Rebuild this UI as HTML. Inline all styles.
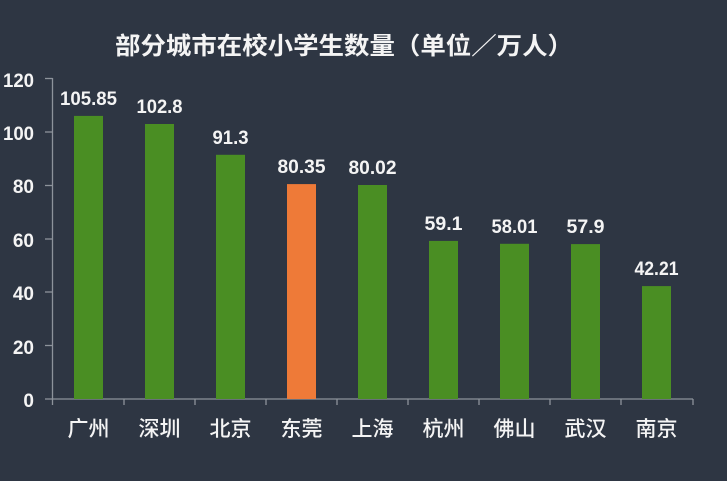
<!DOCTYPE html>
<html><head><meta charset="utf-8"><style>
html,body{margin:0;padding:0;background:#2e3643;}
svg{display:block;}
</style></head><body>
<svg width="727" height="481" xmlns="http://www.w3.org/2000/svg">
<rect width="727" height="481" fill="#2e3643"/>
<text x="344" y="54" text-anchor="middle" fill="#f4f4f4" font-family="'Liberation Sans','Noto Sans CJK SC',sans-serif" font-weight="bold" font-size="24" textLength="458" lengthAdjust="spacingAndGlyphs">部分城市在校小学生数量（单位／万人）</text>
<g stroke="#8d939b" stroke-width="1.3" fill="none">
<line x1="52.5" y1="78" x2="52.5" y2="399"/>
<line x1="52.5" y1="399" x2="693" y2="399"/>
<line x1="45" y1="78.5" x2="52.5" y2="78.5"/>
<line x1="45" y1="132" x2="52.5" y2="132"/>
<line x1="45" y1="185.5" x2="52.5" y2="185.5"/>
<line x1="45" y1="239" x2="52.5" y2="239"/>
<line x1="45" y1="292" x2="52.5" y2="292"/>
<line x1="45" y1="345.5" x2="52.5" y2="345.5"/>
<line x1="45" y1="399" x2="52.5" y2="399"/>
<line x1="52.5" y1="399" x2="52.5" y2="405"/>
<line x1="124" y1="399" x2="124" y2="405"/>
<line x1="195" y1="399" x2="195" y2="405"/>
<line x1="266" y1="399" x2="266" y2="405"/>
<line x1="337" y1="399" x2="337" y2="405"/>
<line x1="408" y1="399" x2="408" y2="405"/>
<line x1="479" y1="399" x2="479" y2="405"/>
<line x1="550" y1="399" x2="550" y2="405"/>
<line x1="621" y1="399" x2="621" y2="405"/>
<line x1="693" y1="399" x2="693" y2="405"/>
</g>
<g fill="#f4f4f4" font-family="'Liberation Sans',sans-serif" font-size="19" font-weight="bold" text-anchor="end">
<text x="34" y="87" textLength="31" lengthAdjust="spacingAndGlyphs">120</text>
<text x="34" y="140" textLength="31" lengthAdjust="spacingAndGlyphs">100</text>
<text x="34" y="193">80</text>
<text x="34" y="247">60</text>
<text x="34" y="300">40</text>
<text x="34" y="354">20</text>
<text x="34" y="407">0</text>
</g>
<g>
<rect x="74" y="115.9" width="29" height="283.1" fill="#4a8e23"/>
<rect x="145" y="124.0" width="29" height="275.0" fill="#4a8e23"/>
<rect x="216" y="154.8" width="29" height="244.2" fill="#4a8e23"/>
<rect x="287" y="184.1" width="29" height="214.9" fill="#ee7a38"/>
<rect x="358" y="185.0" width="29" height="214.0" fill="#4a8e23"/>
<rect x="429" y="240.9" width="29" height="158.1" fill="#4a8e23"/>
<rect x="500" y="243.8" width="29" height="155.2" fill="#4a8e23"/>
<rect x="571" y="244.1" width="29" height="154.9" fill="#4a8e23"/>
<rect x="642" y="286.1" width="29" height="112.9" fill="#4a8e23"/>
</g>
<g fill="#f4f4f4" font-family="'Liberation Sans',sans-serif" font-size="19" font-weight="bold" text-anchor="middle">
<text x="88.5" y="105" textLength="57" lengthAdjust="spacingAndGlyphs">105.85</text>
<text x="159.5" y="113" textLength="46" lengthAdjust="spacingAndGlyphs">102.8</text>
<text x="230.5" y="144" textLength="36" lengthAdjust="spacingAndGlyphs">91.3</text>
<text x="301.5" y="173" textLength="48" lengthAdjust="spacingAndGlyphs">80.35</text>
<text x="372.5" y="174" textLength="48" lengthAdjust="spacingAndGlyphs">80.02</text>
<text x="443.5" y="230" textLength="38" lengthAdjust="spacingAndGlyphs">59.1</text>
<text x="514.5" y="233" textLength="46" lengthAdjust="spacingAndGlyphs">58.01</text>
<text x="585.5" y="233" textLength="38" lengthAdjust="spacingAndGlyphs">57.9</text>
<text x="656.5" y="275" textLength="44" lengthAdjust="spacingAndGlyphs">42.21</text>
</g>
<g fill="#f4f4f4" font-family="'Liberation Sans','Noto Sans CJK SC',sans-serif" font-size="21" font-weight="500" text-anchor="middle">
<text x="88.5" y="436">广州</text>
<text x="159.5" y="436">深圳</text>
<text x="230.5" y="436">北京</text>
<text x="301.5" y="436">东莞</text>
<text x="372.5" y="436">上海</text>
<text x="443.5" y="436">杭州</text>
<text x="514.5" y="436">佛山</text>
<text x="585.5" y="436">武汉</text>
<text x="656.5" y="436">南京</text>
</g>
</svg>
</body></html>
